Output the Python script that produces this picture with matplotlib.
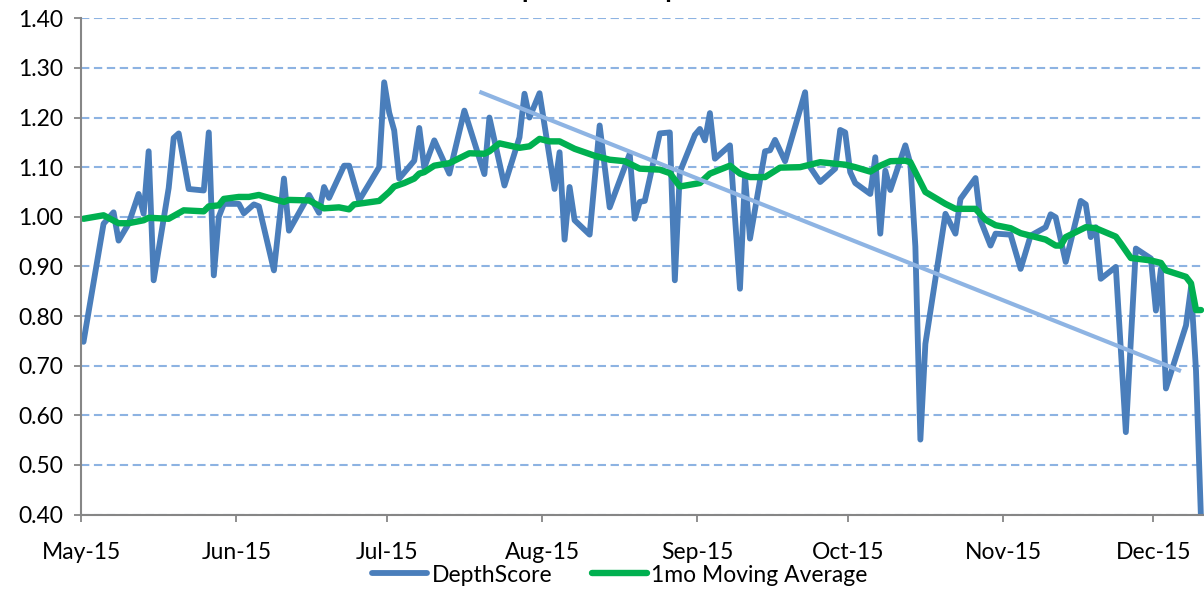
import matplotlib
matplotlib.use("Agg")
import matplotlib.pyplot as plt
import pandas as pd

# ---------------- data ----------------
score_dates = [
    "2015-05-01", "2015-05-05", "2015-05-07", "2015-05-08", "2015-05-10", "2015-05-12",
    "2015-05-13", "2015-05-14", "2015-05-15", "2015-05-18", "2015-05-19", "2015-05-20",
    "2015-05-22", "2015-05-25", "2015-05-26", "2015-05-27", "2015-05-28", "2015-05-29",
    "2015-06-01", "2015-06-02", "2015-06-04", "2015-06-05", "2015-06-08", "2015-06-10",
    "2015-06-11", "2015-06-15", "2015-06-17", "2015-06-18", "2015-06-19", "2015-06-22",
    "2015-06-23", "2015-06-25", "2015-06-29", "2015-06-30", "2015-07-01", "2015-07-02",
    "2015-07-03", "2015-07-06", "2015-07-07", "2015-07-08", "2015-07-10", "2015-07-13",
    "2015-07-16", "2015-07-20", "2015-07-21", "2015-07-24", "2015-07-27", "2015-07-28",
    "2015-07-29", "2015-07-31", "2015-08-03", "2015-08-04", "2015-08-05", "2015-08-06",
    "2015-08-07", "2015-08-10", "2015-08-12", "2015-08-14", "2015-08-18", "2015-08-19",
    "2015-08-20", "2015-08-21", "2015-08-24", "2015-08-26", "2015-08-27", "2015-08-28",
    "2015-08-31", "2015-09-01", "2015-09-02", "2015-09-03", "2015-09-04", "2015-09-07",
    "2015-09-09", "2015-09-10", "2015-09-11", "2015-09-14", "2015-09-15", "2015-09-16",
    "2015-09-18", "2015-09-22", "2015-09-23", "2015-09-25", "2015-09-28", "2015-09-29",
    "2015-09-30", "2015-10-01", "2015-10-02", "2015-10-05", "2015-10-06", "2015-10-07",
    "2015-10-08", "2015-10-09", "2015-10-12", "2015-10-13", "2015-10-14", "2015-10-15",
    "2015-10-16", "2015-10-20", "2015-10-22", "2015-10-23", "2015-10-26", "2015-10-27",
    "2015-10-29", "2015-10-30", "2015-11-02", "2015-11-04", "2015-11-06", "2015-11-09",
    "2015-11-10", "2015-11-11", "2015-11-13", "2015-11-16", "2015-11-17", "2015-11-18",
    "2015-11-19", "2015-11-20", "2015-11-23", "2015-11-25", "2015-11-27", "2015-11-30",
    "2015-12-01", "2015-12-02", "2015-12-03", "2015-12-07", "2015-12-08", "2015-12-09",
    "2015-12-10",
]
depth_score = [
    0.748, 0.986, 1.009, 0.952, 0.986, 1.046,
    1.006, 1.132, 0.872, 1.058, 1.159, 1.168,
    1.056, 1.053, 1.170, 0.882, 1.000, 1.026,
    1.026, 1.007, 1.025, 1.021, 0.892, 1.077,
    0.972, 1.044, 1.008, 1.060, 1.038, 1.103,
    1.103, 1.033, 1.100, 1.271, 1.210, 1.174,
    1.077, 1.113, 1.179, 1.099, 1.154, 1.087,
    1.214, 1.086, 1.200, 1.063, 1.160, 1.248,
    1.200, 1.249, 1.056, 1.130, 0.954, 1.060,
    0.993, 0.964, 1.184, 1.019, 1.127, 0.996,
    1.030, 1.032, 1.168, 1.170, 0.872, 1.090,
    1.165, 1.177, 1.154, 1.209, 1.117, 1.144,
    0.855, 1.082, 0.956, 1.132, 1.134, 1.155,
    1.112, 1.251, 1.100, 1.070, 1.097, 1.175,
    1.170, 1.090, 1.068, 1.046, 1.120, 0.966,
    1.093, 1.054, 1.144, 1.107, 0.940, 0.551,
    0.744, 1.006, 0.966, 1.036, 1.078, 0.993,
    0.942, 0.966, 0.964, 0.895, 0.962, 0.979,
    1.005, 0.999, 0.909, 1.032, 1.025, 0.959,
    0.979, 0.875, 0.899, 0.566, 0.936, 0.916,
    0.811, 0.895, 0.654, 0.781, 0.857, 0.690,
    0.390,
]

ma_dates = [
    "2015-05-01", "2015-05-05", "2015-05-08", "2015-05-10", "2015-05-13", "2015-05-14",
    "2015-05-18", "2015-05-21", "2015-05-25", "2015-05-26", "2015-05-28", "2015-05-29",
    "2015-06-01", "2015-06-03", "2015-06-05", "2015-06-06", "2015-06-10", "2015-06-11",
    "2015-06-15", "2015-06-18", "2015-06-21", "2015-06-23", "2015-06-24", "2015-06-29",
    "2015-07-01", "2015-07-02", "2015-07-04", "2015-07-06", "2015-07-07", "2015-07-08",
    "2015-07-10", "2015-07-13", "2015-07-15", "2015-07-17", "2015-07-20", "2015-07-21",
    "2015-07-23", "2015-07-27", "2015-07-29", "2015-07-31", "2015-08-02", "2015-08-04",
    "2015-08-07", "2015-08-11", "2015-08-14", "2015-08-17", "2015-08-20", "2015-08-24",
    "2015-08-26", "2015-08-28", "2015-09-01", "2015-09-03", "2015-09-05", "2015-09-07",
    "2015-09-09", "2015-09-11", "2015-09-14", "2015-09-17", "2015-09-21", "2015-09-25",
    "2015-09-30", "2015-10-02", "2015-10-05", "2015-10-07", "2015-10-09", "2015-10-12",
    "2015-10-13", "2015-10-14", "2015-10-16", "2015-10-20", "2015-10-22", "2015-10-26",
    "2015-10-28", "2015-10-30", "2015-11-02", "2015-11-04", "2015-11-09", "2015-11-11",
    "2015-11-12", "2015-11-13", "2015-11-17", "2015-11-19", "2015-11-23", "2015-11-24",
    "2015-11-26", "2015-11-30", "2015-12-02", "2015-12-03", "2015-12-07", "2015-12-08",
    "2015-12-09", "2015-12-10",
]
moving_avg = [
    0.996, 1.003, 0.987, 0.987, 0.993, 0.998,
    0.996, 1.013, 1.011, 1.021, 1.023, 1.036,
    1.040, 1.040, 1.044, 1.041, 1.030, 1.034,
    1.033, 1.017, 1.019, 1.015, 1.025, 1.032,
    1.050, 1.061, 1.068, 1.077, 1.087, 1.090,
    1.103, 1.108, 1.118, 1.128, 1.127, 1.132,
    1.148, 1.139, 1.142, 1.157, 1.152, 1.152,
    1.137, 1.123, 1.115, 1.112, 1.097, 1.095,
    1.088, 1.061, 1.068, 1.087, 1.095, 1.103,
    1.087, 1.080, 1.080, 1.099, 1.100, 1.110,
    1.105, 1.100, 1.091, 1.103, 1.112, 1.113,
    1.110, 1.090, 1.050, 1.026, 1.016, 1.016,
    0.994, 0.983, 0.977, 0.967, 0.954, 0.942,
    0.942, 0.959, 0.979, 0.977, 0.960, 0.946,
    0.917, 0.912, 0.907, 0.892, 0.879, 0.866,
    0.812, 0.812,
]

trend_dates = ["2015-07-19", "2015-12-06"]
trend_vals = [1.252, 0.689]

month_ticks = ["2015-05-01", "2015-06-01", "2015-07-01", "2015-08-01",
               "2015-09-01", "2015-10-01", "2015-11-01", "2015-12-01"]
month_labels = ["May-15", "Jun-15", "Jul-15", "Aug-15",
                "Sep-15", "Oct-15", "Nov-15", "Dec-15"]
y_ticks = [0.40, 0.50, 0.60, 0.70, 0.80, 0.90, 1.00, 1.10, 1.20, 1.30, 1.40]

title_text = "DepthScore Report"
legend_labels = ["DepthScore", "1mo Moving Average"]

# ---------------- style ----------------
plt.rcParams["font.family"] = ["Lato", "DejaVu Sans"]
BLUE = "#4A7EBB"
GREEN = "#00B050"
TREND = "#8EB4E3"
GRID = "#8DB3E2"
AXIS = "#868686"

half_day = pd.Timedelta(hours=12)
sx = pd.to_datetime(score_dates) + half_day
mx = pd.to_datetime(ma_dates) + half_day
tx = pd.to_datetime(trend_dates) + half_day

fig = plt.figure(figsize=(12.04, 5.90), dpi=100)
ax = fig.add_axes([81 / 1204, 1 - 514.5 / 590, 1 - 81 / 1204 + 0.01, (514.5 - 18.3) / 590])

ax.plot(sx, depth_score, color=BLUE, lw=4.2, solid_joinstyle="round",
        solid_capstyle="round", zorder=3, label=legend_labels[0])
ax.plot(mx, moving_avg, color=GREEN, lw=4.6, solid_joinstyle="round",
        solid_capstyle="round", zorder=4, label=legend_labels[1])
ax.plot(tx, trend_vals, color=TREND, lw=3.0, solid_capstyle="butt", zorder=5)

start = pd.Timestamp(month_ticks[0])
ax.set_xlim(start, start + pd.Timedelta(days=226.5))
ax.set_ylim(y_ticks[0], y_ticks[-1])

ax.set_yticks(y_ticks)
ax.set_yticklabels([f"{v:.2f}" for v in y_ticks])
ax.set_xticks(pd.to_datetime(month_ticks))
ax.set_xticklabels(month_labels)

ax.yaxis.grid(True, color=GRID, lw=1.5, linestyle=(0, (4.0, 2.2)))
ax.xaxis.grid(False)
ax.set_axisbelow(True)

for s in ["top", "right"]:
    ax.spines[s].set_visible(False)
for s in ["left", "bottom"]:
    ax.spines[s].set_color(AXIS)
    ax.spines[s].set_linewidth(1.5)
ax.spines["left"].set_zorder(6)
ax.spines["bottom"].set_zorder(6)

ax.tick_params(axis="y", length=5, width=1.3, color=AXIS, pad=8, labelsize=16.5,
               labelcolor="black")
ax.tick_params(axis="x", length=5, width=1.3, color=AXIS, pad=15, labelsize=16.5,
               labelcolor="black")

fig.text(0.5, 1 + 2 / 590, title_text, ha="center", va="baseline",
         fontsize=19, fontweight="bold")

leg = fig.legend(loc="center", bbox_to_anchor=(620 / 1204, 1 - 575 / 590), ncol=2,
                 frameon=False, fontsize=16.5, handlelength=2.4, handletextpad=0.2,
                 columnspacing=1.7, borderaxespad=0)

fig.savefig("out.png", dpi=100)
